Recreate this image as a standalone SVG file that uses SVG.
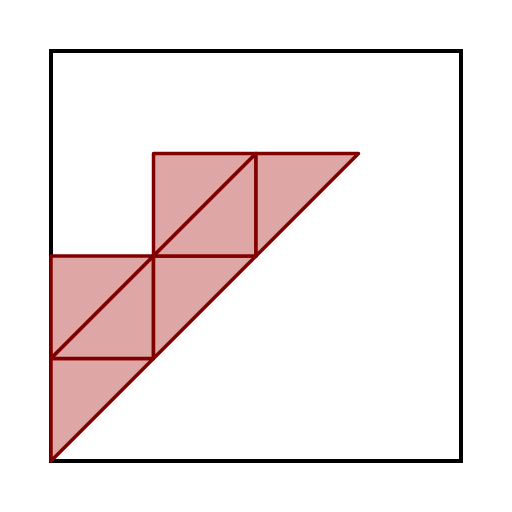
<svg xmlns="http://www.w3.org/2000/svg" width="512" height="512" viewBox="0 0 512 512">
<style>
.t{fill:#dfa6a6;stroke:#800000;stroke-width:3.5;stroke-linejoin:round}
.frame{fill:none;stroke:#000;stroke-width:4}
</style>
<rect width="512" height="512" fill="#fff"/>
<rect class="frame" x="51" y="51" width="410" height="410"/>
<g id="triangles">
<polygon id="t1" class="t" points="51,461 51,358.5 153.5,358.5"/>
<polygon id="t2" class="t" points="51,256 153.5,256 51,358.5"/>
<polygon id="t3" class="t" points="51,358.5 153.5,358.5 153.5,256"/>
<polygon id="t4" class="t" points="153.5,256 256,256 153.5,358.5"/>
<polygon id="t5" class="t" points="153.5,153.5 256,153.5 153.5,256"/>
<polygon id="t6" class="t" points="153.5,256 256,256 256,153.5"/>
<polygon id="t7" class="t" points="256,153.5 358.5,153.5 256,256"/>
</g>
</svg>
